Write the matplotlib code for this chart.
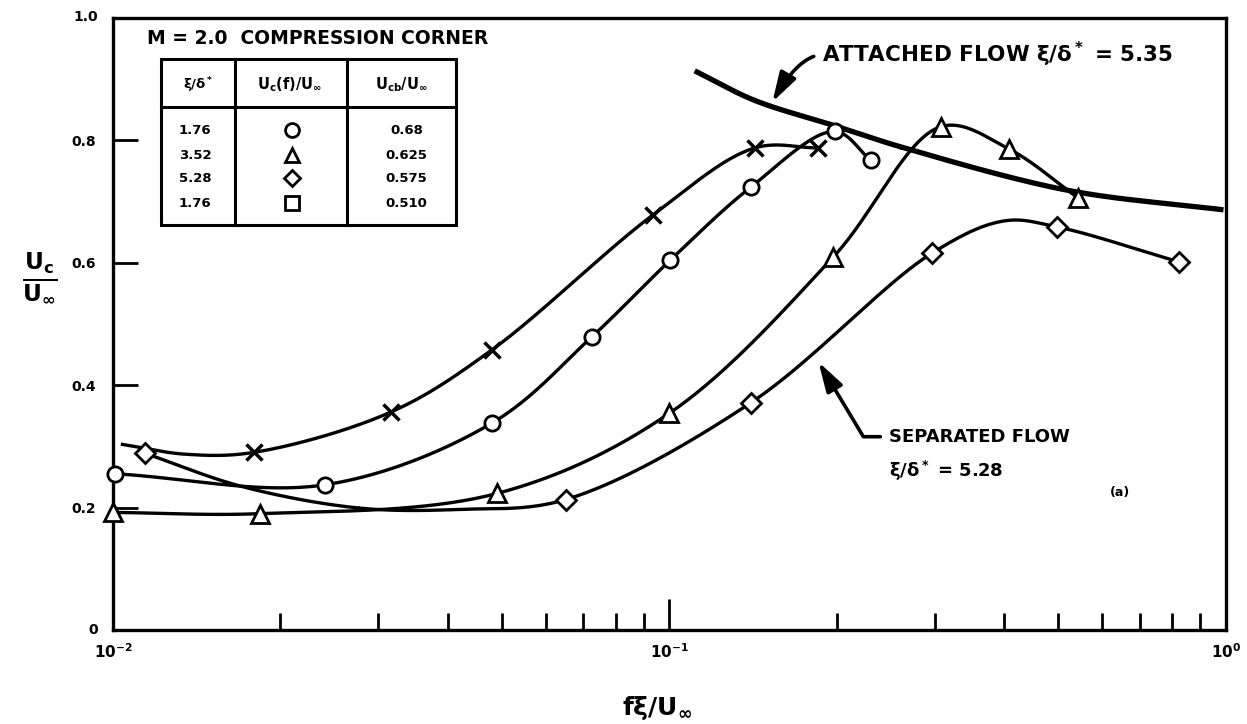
import numpy as np
import matplotlib
matplotlib.use('Agg')
import matplotlib.pyplot as plt
from matplotlib.patches import Rectangle
from matplotlib.ticker import FixedLocator, FixedFormatter

plt.rcParams['font.family'] = ['DejaVu Sans']
plt.rcParams['font.weight'] = 'bold'
plt.rcParams['mathtext.fontset'] = 'dejavusans'
plt.rcParams['mathtext.default'] = 'bf'

# --- data ---
# circles, xi/delta* = 1.76
circ_x = [0.0101, 0.024, 0.048, 0.0726, 0.1004, 0.140, 0.198, 0.230]
circ_y = [0.255, 0.237, 0.338, 0.479, 0.604, 0.723, 0.814, 0.767]
# triangles, xi/delta* = 3.52
tri_x = [0.0100, 0.0184, 0.049, 0.100, 0.197, 0.308, 0.408, 0.543]
tri_y = [0.192, 0.190, 0.223, 0.354, 0.609, 0.822, 0.785, 0.705]
# diamonds, xi/delta* = 5.28 (separated flow)
dia_x = [0.01142, 0.0651, 0.140, 0.296, 0.498, 0.824]
dia_y = [0.2885, 0.213, 0.371, 0.615, 0.658, 0.601]
dia_curve_x = [0.01142, 0.0171, 0.0278, 0.042, 0.0651, 0.140, 0.296, 0.40, 0.498, 0.824]
dia_curve_y = [0.2885, 0.234, 0.199, 0.197, 0.213, 0.371, 0.615, 0.668, 0.658, 0.601]
# crosses
cross_x = [0.0179, 0.0316, 0.0479, 0.0935, 0.1422, 0.185]
cross_y = [0.290, 0.356, 0.457, 0.678, 0.787, 0.787]
cross_curve_x = [0.0104, 0.0135] + cross_x
cross_curve_y = [0.303, 0.287] + cross_y
# attached flow, xi/delta* = 5.35 (no symbols)
att_x = [0.111, 0.142, 0.197, 0.260, 0.519, 0.99]
att_y = [0.913, 0.865, 0.824, 0.789, 0.718, 0.686]

# legend table
tab_ratio = ['1.76', '3.52', '5.28', '1.76']
tab_marker = ['o', '^', 'D', 's']
tab_ucb = ['0.68', '0.625', '0.575', '0.510']

yticks = [0.2, 0.4, 0.6, 0.8]
ytick_labels = ['0.2', '0.4', '0.6', '0.8']


def smooth(xs, ys, n=40):
    # centripetal Catmull-Rom through the points, in log-x space
    p = np.column_stack([np.log10(xs) * 0.91, ys])
    p = np.vstack([2 * p[0] - p[1], p, 2 * p[-1] - p[-2]])
    out = []
    for i in range(len(p) - 3):
        p0, p1, p2, p3 = p[i], p[i + 1], p[i + 2], p[i + 3]
        t0 = 0.0
        t1 = t0 + np.linalg.norm(p1 - p0) ** 0.5
        t2 = t1 + np.linalg.norm(p2 - p1) ** 0.5
        t3 = t2 + np.linalg.norm(p3 - p2) ** 0.5
        t = np.linspace(t1, t2, n)[:, None]
        a1 = (t1 - t) / (t1 - t0) * p0 + (t - t0) / (t1 - t0) * p1
        a2 = (t2 - t) / (t2 - t1) * p1 + (t - t1) / (t2 - t1) * p2
        a3 = (t3 - t) / (t3 - t2) * p2 + (t - t2) / (t3 - t2) * p3
        b1 = (t2 - t) / (t2 - t0) * a1 + (t - t0) / (t2 - t0) * a2
        b2 = (t3 - t) / (t3 - t1) * a2 + (t - t1) / (t3 - t1) * a3
        c = (t2 - t) / (t2 - t1) * b1 + (t - t1) / (t2 - t1) * b2
        out.append(c)
    c = np.vstack(out)
    return 10 ** (c[:, 0] / 0.91), c[:, 1]


fig = plt.figure(figsize=(12.47, 7.24), dpi=100)
ax = fig.add_axes([0.0906, 0.1298, 0.8925, 0.846])
ax.set_xscale('log')
ax.set_xlim(0.01, 1.0)
ax.set_ylim(0, 1.0)

lw = 2.4
for cx, cy in [(circ_x, circ_y), (tri_x, tri_y), (dia_curve_x, dia_curve_y),
               (cross_curve_x, cross_curve_y)]:
    sx, sy = smooth(cx, cy)
    ax.plot(sx, sy, color='black', lw=lw, zorder=2)
sx, sy = smooth(att_x, att_y)
ax.plot(sx, sy, color='black', lw=3.8, zorder=2, solid_capstyle='butt')

mk = dict(color='black', mfc='white', mec='black', mew=2, ls='none', zorder=4, clip_on=False)
ax.plot(circ_x, circ_y, marker='o', ms=11, **mk)
ax.plot(tri_x, tri_y, marker='^', ms=13, **mk)
ax.plot(dia_x, dia_y, marker='D', ms=10, **mk)
ax.plot(cross_x, cross_y, marker='x', ms=12, color='black', mew=2.5, ls='none', zorder=4)

# axes styling
for s in ax.spines.values():
    s.set_linewidth(2.4)
ax.yaxis.set_major_locator(FixedLocator(yticks))
ax.yaxis.set_major_formatter(FixedFormatter(ytick_labels))
ax.tick_params(axis='y', which='major', direction='in', length=18, width=2, labelsize=10, pad=12)
ax.tick_params(axis='x', which='major', direction='in', length=22, width=2, labelsize=11, pad=9)
ax.tick_params(axis='x', which='minor', direction='in', length=12, width=2)
ax.set_xticks([0.01, 0.1, 1.0])
ax.set_xticklabels([r'$10^{-2}$', r'$10^{-1}$', r'$10^{0}$'])
for lab in ax.get_yticklabels():
    lab.set_fontweight('bold')
fig.text(113 / 1247 - 0.012, 1 - 630 / 724, '0', ha='right', va='center', fontsize=10, fontweight='bold')
fig.text(113 / 1247 - 0.012, 1 - 17 / 724, '1.0', ha='right', va='center', fontsize=10, fontweight='bold')

fig.text(0.032, 0.617, r'$\frac{U_c}{U_\infty}$', ha='center', va='center', fontsize=24)
fig.text(0.527, 0.022, r'$f\xi/U_\infty$', ha='center', va='center', fontsize=18)

# legend table
T = ax.transAxes
ax.text(0.031, 0.966, 'M = 2.0  COMPRESSION CORNER', transform=T, fontsize=13.5,
        fontweight='bold', va='center', ha='left')
ax.add_patch(Rectangle((0.0431, 0.662), 0.308 - 0.0431, 0.933 - 0.662, transform=T,
                       fill=False, lw=2.2, ec='black'))
ax.plot([0.0431, 0.308], [0.854, 0.854], transform=T, color='black', lw=2.2)
for xv in [0.1096, 0.2102]:
    ax.plot([xv, xv], [0.662, 0.933], transform=T, color='black', lw=2.2)
ax.text(0.0764, 0.890, r'ξ/δ$^*$', transform=T, ha='center', va='center', fontsize=9.5)
ax.text(0.159, 0.890, r'$U_c(f)/U_\infty$', transform=T, ha='center', va='center', fontsize=10.5)
ax.text(0.2594, 0.890, r'$U_{cb}/U_\infty$', transform=T, ha='center', va='center', fontsize=10.5)
row_y = [0.8163, 0.7755, 0.7375, 0.6966]
for ry, r, m, u in zip(row_y, tab_ratio, tab_marker, tab_ucb):
    ax.text(0.0737, ry, r, transform=T, ha='center', va='center', fontsize=9.5, fontweight='bold')
    ax.plot([0.1606], [ry], marker=m, ms=10 if m != 'D' else 8.5, mfc='white', mec='black',
            mew=2, transform=T, ls='none')
    ax.text(0.2638, ry, u, transform=T, ha='center', va='center', fontsize=9.5, fontweight='bold')

# annotations
arrow = dict(arrowstyle='-|>,head_length=1.0,head_width=0.3', color='black', lw=2.6,
             mutation_scale=18, shrinkA=4, shrinkB=0, relpos=(0, 0.5))
ax.annotate(r'ATTACHED FLOW ξ/δ$^*$ = 5.35', xy=(0.1531, 0.862), xytext=(0.637, 0.939),
            textcoords='axes fraction', ha='left', va='center', fontsize=15.5, fontweight='bold',
            arrowprops=dict(connectionstyle='angle3,angleA=0,angleB=60', **arrow))
ax.annotate('SEPARATED FLOW', xy=(0.1853, 0.4375), xytext=(0.697, 0.3156),
            textcoords='axes fraction', ha='left', va='center', fontsize=13, fontweight='bold',
            arrowprops=dict(connectionstyle='angle,angleA=0,angleB=-59,rad=0', **arrow))
ax.text(0.697, 0.259, r'ξ/δ$^*$ = 5.28', transform=T, ha='left', va='center', fontsize=13,
        fontweight='bold')
ax.text(0.905, 0.224, '(a)', transform=T, ha='center', va='center', fontsize=9, fontweight='bold')

fig.savefig('out.png', dpi=100)
